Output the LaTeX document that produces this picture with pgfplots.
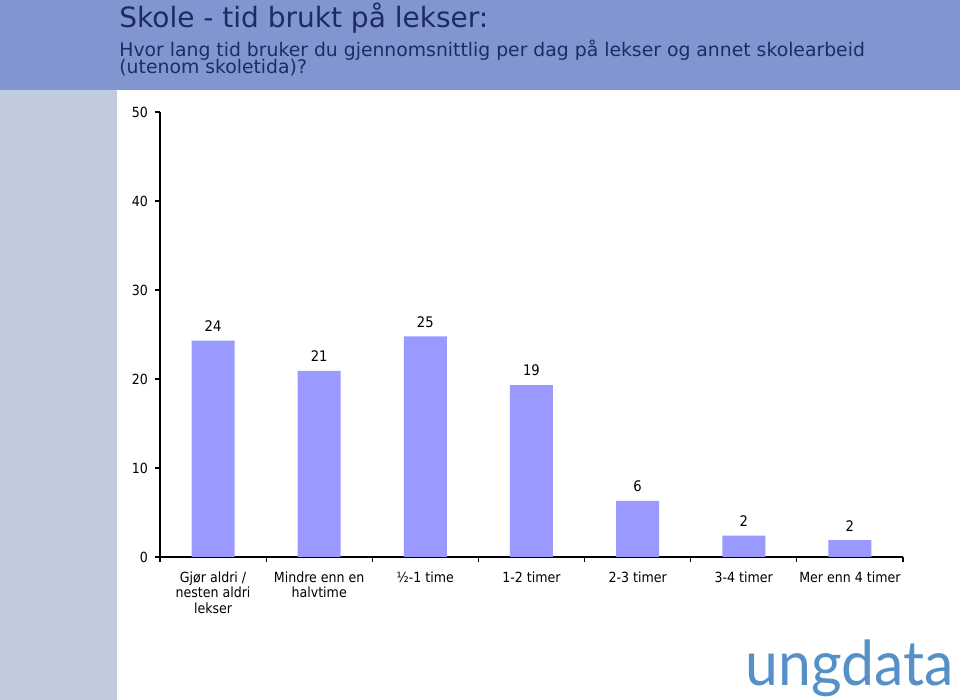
\documentclass[border=0pt]{standalone}
\usepackage{fontspec}
\setmainfont{DejaVu Sans}
\newfontfamily\condfont{DejaVu Sans Condensed}
\newfontfamily\logofont{Lato}
\usepackage{pgfplots}
\pgfplotsset{compat=1.18}

\definecolor{banner}{HTML}{8196D0}
\definecolor{sidebar}{HTML}{C0CBDD}
\definecolor{titlecol}{HTML}{1E2A66}
\definecolor{barcol}{HTML}{9999FF}
\definecolor{logocol}{HTML}{5591C8}

\begin{document}
% 1 px of the 960x700 reference = 0.5pt
\begin{tikzpicture}
\useasboundingbox (0,0) rectangle (480pt,350pt);
\fill[white] (0,0) rectangle (480pt,350pt);
\fill[banner] (0,305pt) rectangle (480pt,350pt);
\fill[sidebar] (0,0) rectangle (58.5pt,305pt);

\node[anchor=base west, inner sep=0, text=titlecol, font=\fontsize{14}{14}\selectfont]
  at (59.5pt,336pt) {Skole - tid brukt på lekser:};
\node[anchor=base west, inner sep=0, text=titlecol, font=\fontsize{9.4}{9.4}\selectfont]
  at (59.5pt,321.5pt) {Hvor lang tid bruker du gjennomsnittlig per dag på lekser og annet skolearbeid};
\node[anchor=base west, inner sep=0, text=titlecol, font=\fontsize{9.4}{9.4}\selectfont]
  at (59.5pt,313pt) {(utenom skoletida)?};

\begin{axis}[
    at={(80pt,71.5pt)}, anchor=south west,
    scale only axis,
    width=371.5pt, height=222.5pt,
    ybar, bar width=21.5pt,
    xmin=-0.5, xmax=6.5,
    ymin=0, ymax=50,
    ytick={0,10,...,50},
    xtick={-0.5,0.5,...,6.5},
    x tick label as interval,
    xticklabels={{Gjør aldri /\\nesten aldri\\lekser},{Mindre enn en\\halvtime},{½-1 time},{1-2 timer},{2-3 timer},{3-4 timer},{Mer enn 4 timer}},
    x tick label style={align=center, font=\condfont\fontsize{7}{7.6}\selectfont, yshift=-1.5pt},
    y tick label style={font=\condfont\fontsize{7}{7}\selectfont},
    /pgf/number format/assume math mode=true,
    axis x line*=bottom, axis y line*=left,
    axis line style={-, line width=0.6pt},
    tick align=outside, major tick length=2.5pt,
    tick style={black, line width=0.6pt},
    nodes near coords,
    nodes near coords style={font=\condfont\fontsize{7.3}{7.3}\selectfont, black,
      /pgf/number format/fixed, /pgf/number format/precision=0, yshift=1pt},
]
\addplot[fill=barcol, draw=none] coordinates {
    (0,24.3) (1,20.9) (2,24.8) (3,19.3) (4,6.3) (5,2.4) (6,1.9)
};
\end{axis}

\node[anchor=base west, inner sep=0, text=logocol, xscale=0.95,
  font=\logofont\fontsize{31}{31}\selectfont]
  at (372.5pt,7pt) {ungdata};
\end{tikzpicture}
\end{document}
